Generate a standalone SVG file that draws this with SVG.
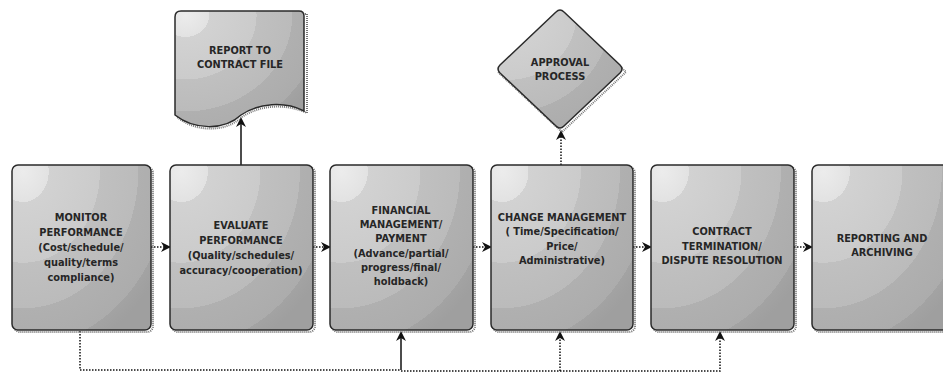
<svg xmlns="http://www.w3.org/2000/svg" width="943" height="374" viewBox="0 0 943 374">
<style>
.box{fill:url(#g);stroke:#2a2a2a;stroke-width:1.5}
.sh{fill:none;stroke:#777;stroke-width:2;stroke-dasharray:1 1}
.t{font-family:"DejaVu Sans",Verdana,sans-serif;font-weight:bold;font-size:9.8px;fill:#262626;text-anchor:middle}
.c{fill:none;stroke:#111;stroke-width:1.5}
.d{stroke-dasharray:1.5 1.5}
</style>
<defs>
<radialGradient id="g" cx="0.08" cy="0.04" r="1.15" fx="0.08" fy="0.04">
<stop offset="0" stop-color="#ececec"/>
<stop offset="0.16" stop-color="#e2e2e2"/>
<stop offset="0.16" stop-color="#d2d2d2"/>
<stop offset="0.48" stop-color="#cbcbcb"/>
<stop offset="0.48" stop-color="#c0c0c0"/>
<stop offset="0.72" stop-color="#bbbbbb"/>
<stop offset="0.72" stop-color="#b0b0b0"/>
<stop offset="0.92" stop-color="#acacac"/>
<stop offset="0.92" stop-color="#a3a3a3"/>
<stop offset="1" stop-color="#9f9f9f"/>
</radialGradient>
<marker id="a" viewBox="0 0 10 10" refX="9" refY="5" markerWidth="10" markerHeight="10" markerUnits="userSpaceOnUse" orient="auto">
<path d="M0,0 L10,5 L0,10 L3,5 Z" fill="#111"/>
</marker>
</defs>
<g id="connectors">
<path class="c" d="M241,165 V118" marker-end="url(#a)"/>
<path class="c d" d="M561,165 V131" marker-end="url(#a)"/>
<path class="c d" d="M151,247 H170" marker-end="url(#a)"/>
<path class="c d" d="M313,247 H330" marker-end="url(#a)"/>
<path class="c d" d="M473,247 H491" marker-end="url(#a)"/>
<path class="c d" d="M633,247 H651" marker-end="url(#a)"/>
<path class="c d" d="M794,247 H812" marker-end="url(#a)"/>
<path class="c d" d="M80,331 V370 H401"/>
<path class="c" d="M401,370 V332" marker-end="url(#a)"/>
<path class="c d" d="M401,371 H560 V332" marker-end="url(#a)"/>
<path class="c d" d="M560,371 H720 V332" marker-end="url(#a)"/>
</g>
<g id="report">
<path class="sh" d="M177,14 H307 V113 C285,103 260,105 242,117 C225,133 195,132 177,117 Z"/>
<path class="box" d="M181,11 H299 Q304,11 304,16 V111 C284,101 259,103 241,115 C224,131 194,130 175,115 V17 Q175,11 181,11 Z"/>
<text class="t" x="240" y="54">REPORT TO</text>
<text class="t" x="240" y="68">CONTRACT FILE</text>
</g>
<g id="approval">
<path class="sh" d="M562,12 L626,72 L562,132 L498,72 Z"/>
<path class="box" d="M556,12 Q560,8 564,12 L620,65 Q624,69 620,73 L564,126 Q560,130 556,126 L500,73 Q496,69 500,65 Z"/>
<text class="t" x="560" y="66">APPROVAL</text>
<text class="t" x="560" y="80">PROCESS</text>
</g>
<g id="monitor">
<rect class="sh" x="14" y="167" width="139" height="165" rx="6"/>
<rect class="box" x="12" y="165" width="139" height="165" rx="6"/>
<text class="t" x="81" y="221">MONITOR</text>
<text class="t" x="81" y="236">PERFORMANCE</text>
<text class="t" x="81" y="251">(Cost/schedule/</text>
<text class="t" x="81" y="266">quality/terms</text>
<text class="t" x="81" y="281">compliance)</text>
</g>
<g id="evaluate">
<rect class="sh" x="172" y="167" width="143" height="165" rx="6"/>
<rect class="box" x="170" y="165" width="143" height="165" rx="6"/>
<text class="t" x="241" y="229">EVALUATE</text>
<text class="t" x="241" y="244">PERFORMANCE</text>
<text class="t" x="241" y="259">(Quality/schedules/</text>
<text class="t" x="241" y="274">accuracy/cooperation)</text>
</g>
<g id="financial">
<rect class="sh" x="332" y="167" width="143" height="165" rx="6"/>
<rect class="box" x="330" y="165" width="143" height="165" rx="6"/>
<text class="t" x="401" y="214">FINANCIAL</text>
<text class="t" x="401" y="228">MANAGEMENT/</text>
<text class="t" x="401" y="242">PAYMENT</text>
<text class="t" x="401" y="257">(Advance/partial/</text>
<text class="t" x="401" y="271">progress/final/</text>
<text class="t" x="401" y="285">holdback)</text>
</g>
<g id="change">
<rect class="sh" x="493" y="167" width="142" height="165" rx="6"/>
<rect class="box" x="491" y="165" width="142" height="165" rx="6"/>
<text class="t" x="562" y="221">CHANGE MANAGEMENT</text>
<text class="t" x="562" y="235">( Time/Specification/</text>
<text class="t" x="562" y="250">Price/</text>
<text class="t" x="562" y="264">Administrative)</text>
</g>
<g id="termination">
<rect class="sh" x="653" y="167" width="143" height="165" rx="6"/>
<rect class="box" x="651" y="165" width="143" height="165" rx="6"/>
<text class="t" x="722" y="235">CONTRACT</text>
<text class="t" x="722" y="250">TERMINATION/</text>
<text class="t" x="722" y="264">DISPUTE RESOLUTION</text>
</g>
<g id="reporting">
<rect class="sh" x="814" y="167" width="143" height="165" rx="6"/>
<rect class="box" x="812" y="165" width="143" height="165" rx="6"/>
<text class="t" x="882" y="242">REPORTING AND</text>
<text class="t" x="882" y="256">ARCHIVING</text>
</g>
</svg>
